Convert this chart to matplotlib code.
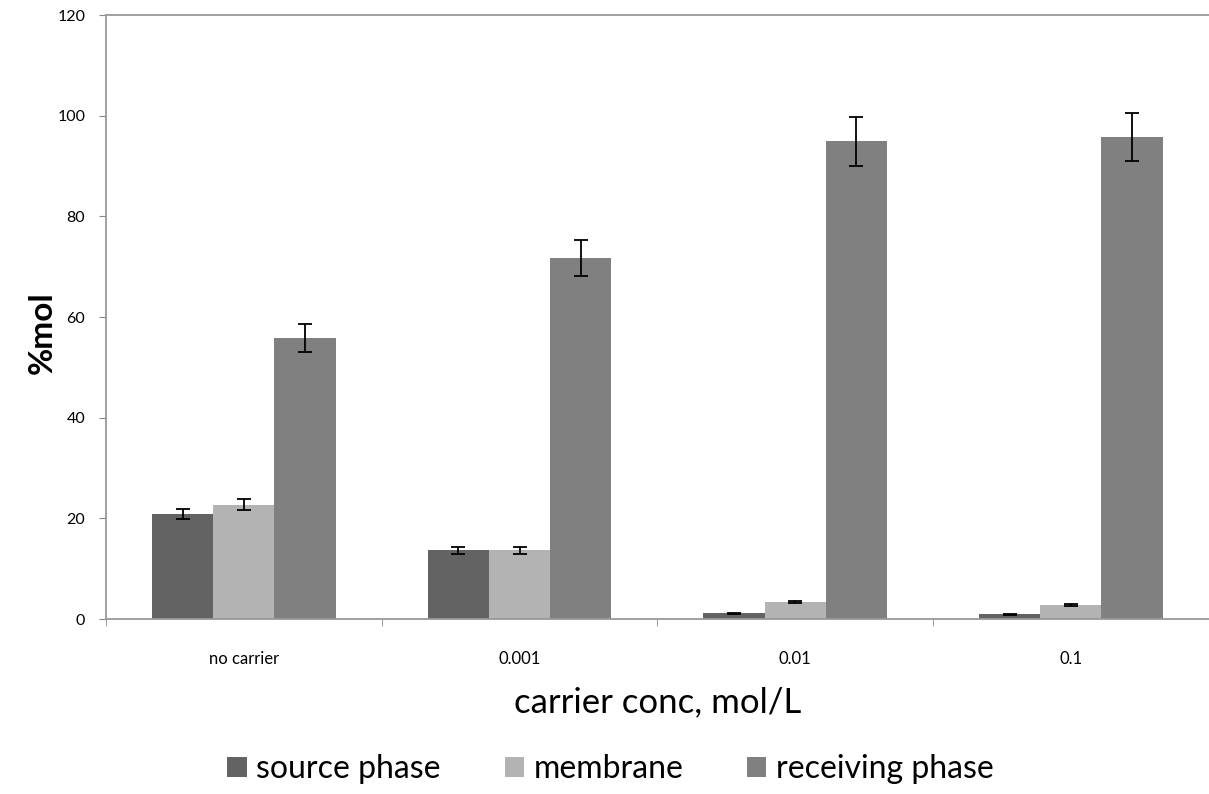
import matplotlib.pyplot as plt
import numpy as np

plt.rcParams['font.family'] = ['Lato', 'DejaVu Sans']

# data set
categories = ['no carrier', '0.001', '0.01', '0.1']
source = [20.8, 13.7, 1.1, 0.9]
source_err = [1.0, 0.7, 0.15, 0.1]
membrane = [22.7, 13.7, 3.4, 2.7]
membrane_err = [1.1, 0.7, 0.2, 0.2]
receiving = [55.8, 71.8, 94.9, 95.8]
receiving_err = [2.8, 3.6, 4.8, 4.7]

colors = ['#636363', '#b3b3b3', '#808080']

fig = plt.figure(figsize=(12.09, 7.94), dpi=100)
ax = fig.add_axes([0.0877, 0.2204, 0.912, 0.7606])

x = np.arange(len(categories))
w = 0.222
err_kw = dict(ecolor='black', elinewidth=1.3, capsize=5, capthick=1.3)
ax.bar(x - w, source, w, yerr=source_err, color=colors[0], label='source phase', error_kw=err_kw)
ax.bar(x, membrane, w, yerr=membrane_err, color=colors[1], label='membrane', error_kw=err_kw)
ax.bar(x + w, receiving, w, yerr=receiving_err, color=colors[2], label='receiving phase', error_kw=err_kw)

ax.set_xlim(-0.5, len(categories) - 0.5)
ax.set_ylim(0, 120)
ax.set_yticks(range(0, 121, 20))
ax.set_xticks(x)
ax.set_xticklabels(categories, fontsize=12)
ax.set_xticks(np.arange(len(categories) + 1) - 0.5, minor=True)
ax.tick_params(axis='x', which='major', length=0, pad=23)
ax.tick_params(axis='x', which='minor', length=5, color='#888888', direction='out')
ax.tick_params(axis='y', length=5, color='#888888', labelsize=11.5, pad=10)

for side in ['left', 'bottom', 'top']:
    ax.spines[side].set_color('#999999')
    ax.spines[side].set_linewidth(1.3)
ax.spines['right'].set_visible(False)

ax.set_ylabel('%mol', fontsize=24, fontweight='bold')
ax.yaxis.set_label_coords(-0.045, 0.475)
ax.set_xlabel('carrier conc, mol/L', fontsize=25, labelpad=14)

fig.legend(loc='center', bbox_to_anchor=(0.505, 0.031), ncol=3, frameon=False,
           fontsize=23, handlelength=0.6, handleheight=0.6, handletextpad=0.3,
           columnspacing=2.0)

plt.savefig('out.png', dpi=100)
